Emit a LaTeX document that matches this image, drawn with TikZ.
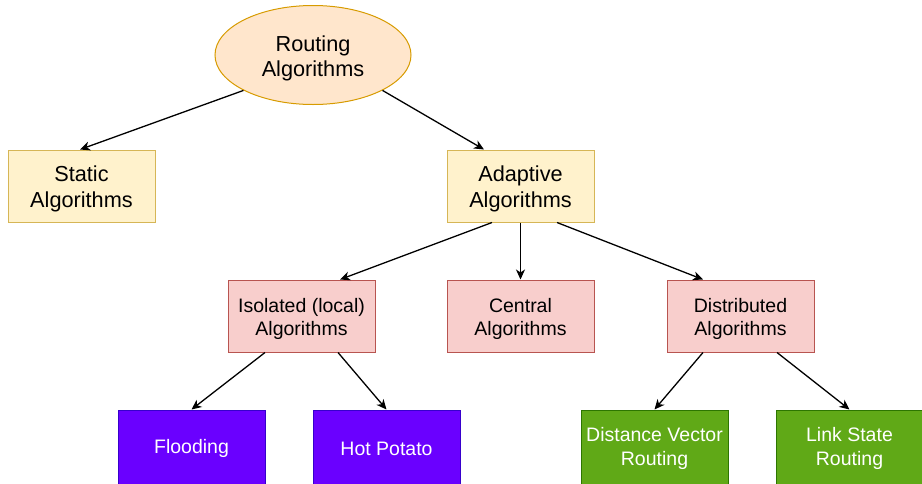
\documentclass[tikz,border=0pt]{standalone}
\usepackage{fontspec}
\setmainfont{Liberation Sans}
\usetikzlibrary{shapes.geometric,arrows.meta,calc}
\definecolor{orfill}{HTML}{FFE6CC}
\definecolor{ordraw}{HTML}{D79B00}
\definecolor{yefill}{HTML}{FFF2CC}
\definecolor{yedraw}{HTML}{D6B656}
\definecolor{refill}{HTML}{F8CECC}
\definecolor{redraw}{HTML}{B85450}
\definecolor{pufill}{HTML}{6A00FF}
\definecolor{pudraw}{HTML}{3700CC}
\definecolor{grfill}{HTML}{60A917}
\definecolor{grdraw}{HTML}{2D7600}
\tikzset{
  box/.style={rectangle, minimum width=147pt, minimum height=72pt, inner sep=0pt, line width=1pt},
  bigtxt/.style={font=\fontsize{21.7}{25.5}\selectfont, align=center, inner sep=0pt},
  smalltxt/.style={font=\fontsize{19.5}{23.5}\selectfont, align=center, inner sep=0pt},
  yebox/.style={box, fill=yefill, draw=yedraw},
  rebox/.style={box, fill=refill, draw=redraw},
  pubox/.style={box, fill=pufill, draw=pudraw, minimum height=76pt},
  grbox/.style={box, fill=grfill, draw=grdraw, minimum height=76pt},
  bt/.style={label={[bigtxt, yshift=-3pt]center:{#1}}},
  st/.style={label={[smalltxt, yshift=-3pt]center:{#1}}},
  wt/.style={label={[smalltxt, text=white, yshift=-0.5pt]center:{#1}}},
  arr/.style={-{Stealth[length=10pt,width=9pt,inset=3pt]}, line width=1.3pt, black}
}
\begin{document}
\begin{tikzpicture}[x=1pt,y=-1pt]
\useasboundingbox (0,0) rectangle (922,483);
\node[ellipse, minimum width=196pt, minimum height=99pt, inner sep=0pt, fill=orfill, draw=ordraw, line width=1pt, label={[bigtxt, yshift=-3.5pt]center:{Routing\\Algorithms}}] (root) at (313,55) {};
\node[yebox, bt={Static\\Algorithms}] (static) at (81.5,186) {};
\node[yebox, bt={Adaptive\\Algorithms}] (adaptive) at (520.5,186) {};
\node[rebox, st={Isolated (local)\\Algorithms}] (isolated) at (301.5,316) {};
\node[rebox, st={Central\\Algorithms}] (central) at (520.5,316) {};
\node[rebox, st={Distributed\\Algorithms}] (distributed) at (740.5,316) {};
\node[pubox, wt={Flooding}] (flooding) at (191.5,448) {};
\node[pubox, wt={Hot Potato}] (hot) at (386.5,448) {};
\node[grbox, wt={Distance Vector\\Routing}] (dv) at (654.5,448) {};
\node[grbox, wt={Link State\\Routing}] (ls) at (849.5,448) {};

\draw[arr] (root.207) -- ($(static.north)+(-1.5,0)$);
\draw[arr] (root.333) -- ($(adaptive.north)+(-36.5,0)$);
\draw[arr] ($(adaptive.south)+(-28.5,0)$) -- ($(isolated.north)+(38.5,0)$);
\draw[arr] (adaptive.south) -- (central.north);
\draw[arr] ($(adaptive.south)+(36.5,0)$) -- ($(distributed.north)+(-37.5,0)$);
\draw[arr] ($(isolated.south)+(-36.5,0)$) -- (flooding.north);
\draw[arr] ($(isolated.south)+(36.5,0)$) -- (hot.north);
\draw[arr] ($(distributed.south)+(-37.5,0)$) -- (dv.north);
\draw[arr] ($(distributed.south)+(36.5,0)$) -- (ls.north);
\end{tikzpicture}
\end{document}
